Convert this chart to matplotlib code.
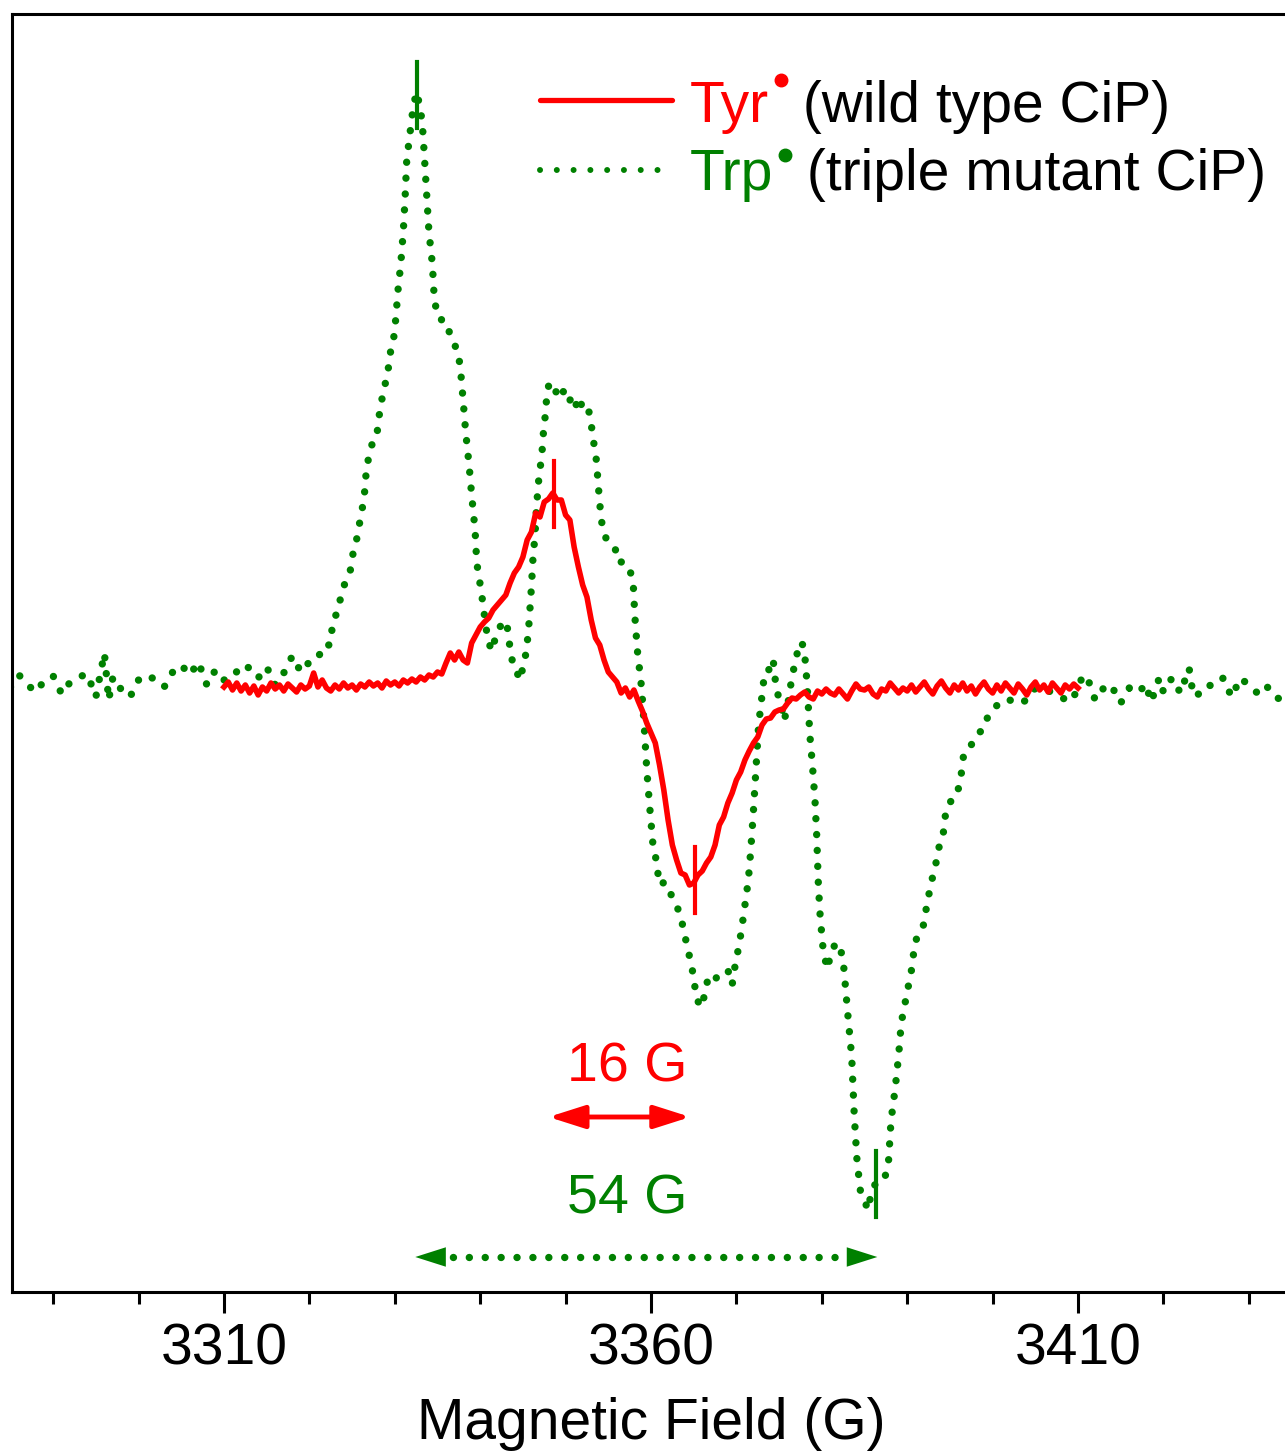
import numpy as np
import matplotlib.pyplot as plt
from matplotlib.patches import FancyArrowPatch
from matplotlib.ticker import MultipleLocator

plt.rcParams['font.family'] = ['Liberation Sans', 'DejaVu Sans']

# Trp radical (triple mutant CiP): (field in G, signal in arb. units)
trp_points = [
    (3285.0, -2), (3286.0, 10), (3287.0, 0), (3288.0, -7), (3289.0, 5), (3290.0, 9), (3291.0, -9),
    (3292.0, 3), (3293.0, 8), (3294.0, 11), (3295.0, -12), (3296.0, 32), (3296.5, -15), (3297.0, 8),
    (3298.0, -5), (3299.0, -12), (3300.0, 5), (3301.0, 10), (3302.0, 5), (3303.0, -2), (3304.0, 13),
    (3305.0, 20), (3306.0, 10), (3307.0, 23), (3308.0, 0), (3309.0, 15), (3310.0, 5), (3311.0, 7),
    (3312.0, 20), (3313.0, 17), (3314.0, 7), (3315.0, 18), (3316.0, 0), (3317.0, 12), (3318.0, 29),
    (3319.0, 13), (3320.0, 23), (3321.0, 26),
    (3321.6, 40), (3322.4, 40), (3322.8, 65), (3323.3, 73), (3323.7, 89), (3324.2, 103), (3324.8, 115),
    (3325.1, 131), (3325.6, 148), (3326.0, 168), (3326.4, 186), (3326.7, 218), (3327.1, 233),
    (3327.5, 246), (3327.9, 250), (3328.3, 278), (3328.7, 294), (3329.2, 314), (3329.5, 333),
    (3329.8, 341), (3330.1, 365), (3330.4, 397), (3330.7, 421), (3331.0, 454), (3331.2, 486),
    (3331.4, 525), (3331.8, 553), (3332.0, 568), (3332.5, 593), (3333.0, 578), (3333.3, 552),
    (3333.6, 510), (3334.0, 453), (3334.4, 421), (3334.6, 390), (3334.9, 372), (3335.3, 370),
    (3335.8, 356), (3336.3, 355), (3336.8, 343), (3337.4, 334), (3337.7, 315), (3338.0, 285),
    (3338.3, 253), (3338.7, 220), (3339.0, 190), (3339.4, 155), (3339.6, 122), (3339.9, 106),
    (3340.4, 77), (3340.6, 61), (3340.9, 47), (3341.3, 34), (3341.6, 42), (3342.2, 57), (3342.7, 62),
    (3343.1, 64), (3343.3, 48), (3343.6, 32), (3343.9, 17), (3344.3, 12), (3344.8, 5), (3345.0, 22),
    (3345.4, 32), (3345.7, 60), (3346.0, 98), (3346.2, 130), (3346.4, 147), (3346.6, 179),
    (3346.9, 210), (3347.2, 228), (3347.4, 252), (3347.7, 276), (3347.8, 292), (3348.1, 302),
    (3348.6, 301), (3349.1, 287), (3349.7, 294), (3350.3, 282), (3350.9, 290), (3351.5, 273),
    (3351.9, 282), (3352.5, 282), (3352.9, 267), (3353.2, 248), (3353.6, 225), (3354.0, 181),
    (3354.3, 158), (3354.8, 145), (3355.4, 140), (3355.8, 137), (3356.1, 123), (3356.7, 123),
    (3357.3, 120), (3357.9, 105), (3358.1, 70), (3358.4, 35), (3358.9, -3), (3359.2, -40),
    (3359.5, -84), (3359.8, -117), (3360.2, -157), (3360.6, -175), (3361.0, -200), (3361.6, -197),
    (3362.2, -207), (3362.9, -219), (3363.3, -227), (3363.7, -240), (3364.2, -260), (3364.6, -275),
    (3365.0, -292), (3365.3, -313), (3365.6, -318), (3366.0, -322), (3366.3, -307), (3366.7, -293),
    (3367.3, -297), (3367.8, -291), (3368.4, -288), (3369.0, -285), (3369.5, -300), (3369.8, -283),
    (3370.2, -265), (3370.6, -245), (3371.0, -220), (3371.4, -195), (3371.7, -163), (3372.0, -125),
    (3372.3, -83), (3372.6, -40), (3373.0, -10), (3373.3, 12), (3373.7, 13), (3374.0, 20),
    (3374.3, 26), (3374.5, 8), (3374.8, -8), (3375.2, -18), (3375.6, -36), (3376.1, -15),
    (3376.5, 8), (3377.0, 27), (3377.4, 43), (3377.8, 40), (3378.1, 22), (3378.35, -10),
    (3378.6, -50), (3378.9, -80), (3379.2, -115), (3379.4, -150), (3379.6, -200), (3379.8, -230),
    (3380.1, -260), (3380.6, -284), (3381.0, -272), (3381.5, -260), (3382.0, -258), (3382.5, -275),
    (3383.0, -325), (3383.5, -372), (3383.8, -430), (3384.1, -473), (3384.5, -505), (3384.9, -513),
    (3385.4, -525), (3385.9, -503), (3386.4, -498), (3386.9, -498), (3387.4, -492), (3387.8, -478),
    (3388.1, -436), (3388.6, -403), (3389.0, -370), (3389.3, -338), (3389.7, -320), (3390.0, -307),
    (3390.5, -285), (3390.9, -258), (3391.5, -245), (3391.9, -240), (3392.3, -220), (3392.8, -198),
    (3393.3, -181), (3393.8, -159), (3394.2, -150), (3394.5, -128), (3395.0, -117), (3395.6, -114),
    (3396.2, -98), (3396.6, -70), (3397.2, -66), (3397.7, -56), (3398.3, -48), (3398.9, -45),
    (3399.5, -30), (3400.0, -26), (3400.9, -16),
    (3402.0, -15), (3403.0, -19), (3404.0, -15), (3405.0, -3), (3406.0, -5), (3407.0, -7),
    (3408.0, -12), (3409.0, -17), (3410.0, -5), (3410.5, 9), (3411.0, 9), (3411.5, -2), (3412.0, -15),
    (3413.0, -3), (3414.0, 0), (3414.5, -13), (3415.0, -18), (3416.0, -3), (3417.0, -8), (3418.0, 1),
    (3418.5, -17), (3419.0, -7), (3419.5, 7), (3420.0, -7), (3421.0, 7), (3422.0, -8), (3423.0, 17),
    (3423.5, -11), (3424.0, -10), (3425.0, 0), (3426.0, -1), (3427.0, 7), (3427.5, -3), (3428.0, -12),
    (3429.0, 7), (3430.0, 0), (3431.0, -8), (3432.0, 0), (3433.0, -12), (3434.0, -15), (3435.0, -20),
]

# Tyr radical (wild type CiP): one value every 0.5 G from 3310 G to 3410 G
tyr_start = 3310.0
tyr_step = 0.5
tyr_signal = [
    -2, 3, -5, 2, -6, 0, -8, -1, -10, -2,
    -6, 2, -4, 0, -6, 1, -3, -7, 0, -4,
    -1, 12, -2, 5, -3, -6, 0, -4, 2, -3,
    0, -5, 1, -2, 3, -1, 2, -3, 4, 0,
    3, -1, 5, 2, 6, 3, 8, 5, 10, 8,
    13, 11, 22, 32, 25, 33, 25, 22, 42, 50,
    58, 63, 67, 75, 80, 85, 90, 102, 112, 118,
    128, 145, 153, 172, 168, 183, 186, 192, 185, 185,
    170, 165, 138, 118, 100, 88, 65, 47, 40, 25,
    13, 8, 3, -8, -3, -12, -5, -16, -26, -38,
    -48, -58, -80, -105, -135, -160, -175, -188, -190, -200,
    -198, -190, -186, -178, -172, -160, -140, -132, -118, -108,
    -95, -87, -75, -66, -58, -52, -40, -34, -33, -27,
    -25, -24, -18, -13, -14, -10, -7, -12, -14, -6,
    -9, -4, -8, -10, -4, -9, -14, -6, 1, -4,
    -5, -2, -9, -12, -4, -6, 2, -3, -8, -3,
    -6, 0, -7, -2, 3, -4, -9, -1, 4, -3,
    -8, 0, -5, 2, -6, -1, -9, -2, 3, -4,
    -8, 0, -6, 2, -3, -8, 1, -4, -10, -2,
    3, -5, 0, -7, 2, -3, -8, 0, -4, 1,
    -3,
]
assert len(tyr_signal) == 201

# peak positions marked on the spectra (G)
tyr_marks = [3348.6, 3365.2]
trp_marks = [3332.6, 3386.3]
tyr_width_label = '16 G'
trp_width_label = '54 G'

major_ticks = [3310, 3360, 3410]

RED = '#ff0000'
GREEN = '#008000'
FS = 41

trp_field = np.array([p[0] for p in trp_points])
trp_signal = np.array([p[1] for p in trp_points], dtype=float)
tyr_field = tyr_start + tyr_step * np.arange(len(tyr_signal))
tyr_signal = np.array(tyr_signal, dtype=float)

fig = plt.figure(figsize=(12.85, 14.55), dpi=100)
ax = fig.add_axes([12 / 1285, 163 / 1455, 1278 / 1285, 1278 / 1455])

DOT_LW = 5.3
dots = (0, (0.01, 2.15))
ax.plot(trp_field, trp_signal, color=GREEN, lw=DOT_LW, linestyle=dots, dash_capstyle='round')
ax.plot(tyr_field, tyr_signal, color=RED, lw=4, solid_joinstyle='round')

# vertical marks at the peaks
for m in tyr_marks:
    yc = np.interp(m, tyr_field, tyr_signal)
    ax.plot([m, m], [yc - 33, yc + 33], color=RED, lw=3)
for m in trp_marks:
    yc = np.interp(m, trp_field, trp_signal)
    ax.plot([m, m], [yc - 33, yc + 33], color=GREEN, lw=3)

# width arrows
mid = (tyr_marks[0] + tyr_marks[1]) / 2
y_tyr_arrow, y_trp_arrow = -432, -572
head = '<|-|>,head_length=2.2,head_width=0.7'
ax.add_patch(FancyArrowPatch((tyr_marks[0] - 0.6, y_tyr_arrow), (tyr_marks[1] - 0.6, y_tyr_arrow),
                             arrowstyle=head, mutation_scale=10, color=RED, lw=3.5,
                             shrinkA=0, shrinkB=0))
ax.add_patch(FancyArrowPatch((trp_marks[0] - 0.2, y_trp_arrow), (trp_marks[1] + 0.2, y_trp_arrow),
                             arrowstyle=head, mutation_scale=10, color=GREEN, lw=0,
                             shrinkA=0, shrinkB=0))
ax.plot([trp_marks[0] + 2.4, trp_marks[1] - 2.4], [y_trp_arrow, y_trp_arrow], color=GREEN,
        lw=DOT_LW, linestyle=dots, dash_capstyle='round')
ax.text(mid + 0.3, -383, tyr_width_label, color=RED, fontsize=40, ha='center', va='center')
ax.text(mid + 0.3, -515, trp_width_label, color=GREEN, fontsize=40, ha='center', va='center')

ax.set_xlim(3285.18, 3434.82)
ax.set_ylim(-607, 671)
ax.set_xticks(major_ticks)
ax.xaxis.set_minor_locator(MultipleLocator(10))
ax.tick_params(axis='x', which='major', length=15, width=2.2, direction='out', labelsize=FS, pad=7)
ax.tick_params(axis='x', which='minor', length=8.6, width=2.2, direction='out')
ax.tick_params(axis='y', left=False, labelleft=False)
ax.spines['right'].set_visible(False)
for s in ['left', 'top', 'bottom']:
    ax.spines[s].set_linewidth(2.2)
ax.set_xlabel('Magnetic Field (G)', fontsize=FS, labelpad=15)

# hand-made legend
ax.plot([0.4131, 0.5164], [0.9327, 0.9327], transform=ax.transAxes, color=RED, lw=3.8,
        solid_capstyle='round')
ax.plot([0.4131, 0.507], [0.8779, 0.8779], transform=ax.transAxes, color=GREEN, lw=4.3,
        linestyle=(0, (0.01, 2.8)), dash_capstyle='round')

entries = [('Tyr', RED, 0.9155, 1.03, ' (wild type CiP)'),
           ('Trp', GREEN, 0.8623, 0.86, ' (triple mutant CiP)')]
fig.canvas.draw()
renderer = fig.canvas.get_renderer()
cap = 0.716 * FS * 100 / 72
inv = ax.transAxes.inverted()
for name, col, yb, dot_h, rest in entries:
    t = ax.text(0.5305, yb, name, color=col, fontsize=FS, transform=ax.transAxes, va='baseline')
    bb = t.get_window_extent(renderer)
    base = ax.transAxes.transform((0, yb))[1]
    dx, dy = inv.transform((bb.x1 + 12, base + dot_h * cap))
    ax.plot([dx], [dy], 'o', ms=9, color=col, transform=ax.transAxes, clip_on=False)
    rx, _ = inv.transform((bb.x1 + 18, base))
    ax.text(rx, yb, rest, color='black', fontsize=FS, transform=ax.transAxes, va='baseline')

fig.savefig('out.png', dpi=100)
